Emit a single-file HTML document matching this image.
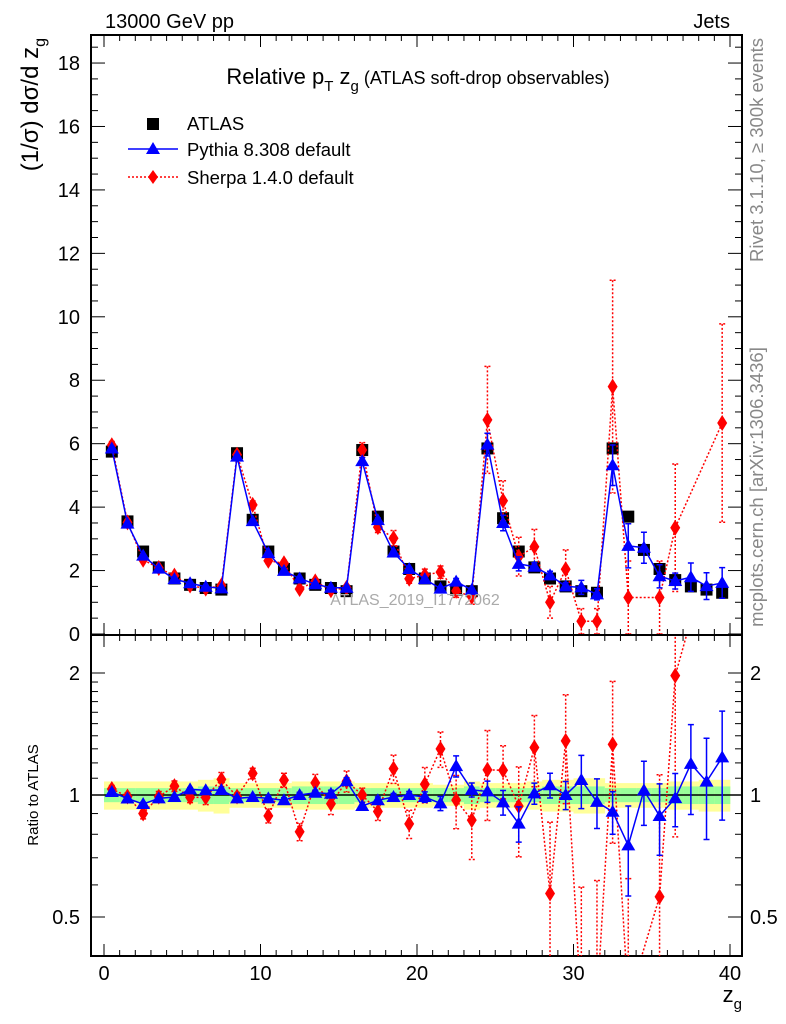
<!DOCTYPE html>
<html><head><meta charset="utf-8"><style>
html,body{margin:0;padding:0;background:#fff;overflow:hidden;width:786px;height:1024px}
svg{display:block;font-family:"Liberation Sans",sans-serif}
</style></head><body>
<svg id="c" width="786" height="1024" viewBox="0 0 786 1024" xmlns="http://www.w3.org/2000/svg">
<g id="bands"></g>
<g id="marks"></g>
<g id="axes"></g>
<text x="105" y="28" font-size="20">13000 GeV pp</text>
<text x="730" y="28" font-size="20" text-anchor="end">Jets</text>
<text x="418" y="84" font-size="22" text-anchor="middle">Relative p<tspan font-size="15" dy="7">T</tspan><tspan dy="-7"> z</tspan><tspan font-size="15" dy="7">g</tspan><tspan dy="-7" font-size="18"> (ATLAS soft-drop observables)</tspan></text>
<text x="415" y="605" font-size="16" fill="#aaa" text-anchor="middle">ATLAS_2019_I1772062</text>
<text transform="translate(763,150) rotate(-90)" font-size="18.5" fill="#888" text-anchor="middle">Rivet 3.1.10, ≥ 300k events</text>
<text transform="translate(763,487) rotate(-90)" font-size="18.5" fill="#888" text-anchor="middle">mcplots.cern.ch [arXiv:1306.3436]</text>
<text transform="translate(38,38) rotate(-90)" font-size="24" text-anchor="end">(1/σ) dσ/d z<tspan font-size="16" dy="7">g</tspan></text>
<text transform="translate(38,795) rotate(-90)" font-size="15" text-anchor="middle">Ratio to ATLAS</text>
<text x="742" y="1002" font-size="22" text-anchor="end">z<tspan font-size="15" dy="7">g</tspan></text>
<g>
<g><rect x="147" y="118" width="12" height="12" fill="#000"/><text x="187" y="130" font-size="18.5">ATLAS</text></g>
<g><line x1="128" y1="149" x2="178" y2="149" stroke="#00f" stroke-width="1.5"/><polygon points="153,142 160,154 146,154" fill="#00f"/><text x="187" y="156" font-size="18.5">Pythia 8.308 default</text></g>
<g><line x1="128" y1="177" x2="178" y2="177" stroke="#f00" stroke-width="1.5" stroke-dasharray="2,2"/><polygon points="153,170 158,177 153,184 148,177" fill="#f00"/><text x="187" y="184" font-size="18.5">Sherpa 1.4.0 default</text></g>
</g>
</svg>
<script>
const binCenters=[0.5,1.5,2.5,3.5,4.5,5.5,6.5,7.5,8.5,9.5,10.5,11.5,12.5,13.5,14.5,15.5,16.5,17.5,18.5,19.5,20.5,21.5,22.5,23.5,24.5,25.5,26.5,27.5,28.5,29.5,30.5,31.5,32.5,33.5,34.5,35.5,36.5,37.5,38.5,39.5];
const atlasVals=[5.75,3.55,2.6,2.1,1.75,1.55,1.45,1.4,5.7,3.6,2.6,2.05,1.75,1.55,1.45,1.35,5.8,3.7,2.6,2.05,1.75,1.5,1.4,1.35,5.85,3.65,2.6,2.1,1.75,1.5,1.35,1.3,5.85,3.7,2.65,2.05,1.7,1.5,1.4,1.3];
const pythiaVals=[5.85,3.48,2.47,2.06,1.73,1.6,1.49,1.44,5.59,3.56,2.55,1.99,1.75,1.57,1.46,1.46,5.45,3.59,2.57,2.05,1.73,1.43,1.65,1.39,5.97,3.5,2.21,2.12,1.85,1.5,1.47,1.25,5.32,2.78,2.72,1.82,1.67,1.79,1.51,1.61];
const pythiaRelErr=[0.01,0.01,0.01,0.01,0.01,0.01,0.01,0.01,0.01,0.01,0.015,0.015,0.015,0.015,0.02,0.02,0.02,0.02,0.02,0.02,0.03,0.04,0.06,0.04,0.06,0.07,0.1,0.06,0.07,0.08,0.15,0.14,0.12,0.25,0.18,0.2,0.15,0.25,0.28,0.3];
const sherpaVals=[5.95,3.52,2.34,2.08,1.84,1.53,1.43,1.53,5.65,4.07,2.31,2.23,1.42,1.66,1.38,1.46,5.8,3.37,3.02,1.74,1.86,1.95,1.36,1.17,6.75,4.2,2.44,2.75,1.0,2.04,0.4,0.4,7.8,1.15,null,1.15,3.35,null,null,6.65];
const sherpaRelErr=[0.02,0.02,0.03,0.03,0.03,0.03,0.04,0.04,0.02,0.03,0.04,0.04,0.05,0.05,0.06,0.06,0.04,0.05,0.08,0.08,0.1,0.1,0.15,0.2,0.25,0.15,0.25,0.2,0.5,0.3,1,1,0.43,1,0,1,0.6,0,0,0.47];
const yellowBand=[0.08,0.08,0.08,0.08,0.08,0.08,0.09,0.1,0.07,0.07,0.07,0.07,0.08,0.08,0.08,0.08,0.07,0.07,0.07,0.07,0.07,0.06,0.06,0.08,0.07,0.07,0.07,0.08,0.09,0.09,0.1,0.1,0.07,0.07,0.07,0.07,0.08,0.08,0.09,0.09];
const greenBand=[0.04,0.04,0.04,0.04,0.04,0.04,0.05,0.05,0.04,0.04,0.04,0.04,0.05,0.05,0.05,0.05,0.04,0.04,0.04,0.04,0.04,0.04,0.04,0.05,0.04,0.04,0.04,0.04,0.05,0.05,0.05,0.05,0.04,0.04,0.04,0.04,0.05,0.05,0.05,0.05];
const xTicks=[0,10,20,30,40];
const yTicks=[0,2,4,6,8,10,12,14,16,18];
const rTicks=[0.5,1,2];

const NS="http://www.w3.org/2000/svg";
const L=91,R=742,T=35,MB=635,RB=956;
const X=v=>104+v*15.65;
const Y=v=>634-v*31.72;
const RY=r=>795-Math.log2(r)*122;
function mk(tag,attrs,parent){const e=document.createElementNS(NS,tag);for(const k in attrs)e.setAttribute(k,attrs[k]);parent.appendChild(e);return e;}
const bands=document.getElementById('bands'),marks=document.getElementById('marks'),axes=document.getElementById('axes');
const defs=mk('defs',{},document.getElementById('c'));
const clipR=mk('clipPath',{id:'cr'},defs);mk('rect',{x:L,y:MB,width:R-L,height:RB-MB},clipR);
const clipM=mk('clipPath',{id:'cm'},defs);mk('rect',{x:L,y:T,width:R-L,height:MB-T},clipM);
marks.setAttribute('clip-path','url(#cm)');
const rmarks=mk('g',{'clip-path':'url(#cr)'},document.getElementById('c'));


binCenters.forEach((c,i)=>{
 const y=mk('rect',{x:X(c-0.5),y:RY(1+yellowBand[i]),width:15.65+0.3,height:RY(1-yellowBand[i])-RY(1+yellowBand[i]),fill:'#ffff99'},bands);
 
 
 const g=mk('rect',{x:X(c-0.5),y:RY(1+greenBand[i]),width:15.65+0.3,height:RY(1-greenBand[i])-RY(1+greenBand[i]),fill:'#99ff99'},bands);
 
 
});
const one=mk('line',{x1:L,x2:R,y1:RY(1),y2:RY(1),stroke:'#000','stroke-width':1.5},rmarks);


function series(vals,relErr,ref,color,dash,shape,name){
 [[marks,(v,i)=>Y(v),(v,i)=>v],[rmarks,(v,i)=>RY(v/ref[i]),(v,i)=>v/ref[i]]].forEach(([par,fy,fv],pi)=>{
  let pts=[];
  vals.forEach((v,i)=>{if(v===null)return;pts.push(X(binCenters[i])+','+fy(v,i));});
  const pl=mk('polyline',{points:pts.join(' '),fill:'none',stroke:color,'stroke-width':1.5,'stroke-dasharray':dash},par);
  
  
  vals.forEach((v,i)=>{if(v===null)return;
   const cx=X(binCenters[i]);const val=fv(v,i);const cy=pi?RY(val):Y(val);
   const e=relErr[i]*val;const y1=pi?RY(val+e):Y(val+e);const y2=pi?RY(Math.max(val-e,0.35)):Y(Math.max(val-e,0));
   if(e>0){const eb=mk('path',{d:`M${cx},${y1}V${y2}M${cx-3},${y1}H${cx+3}M${cx-3},${y2}H${cx+3}`,stroke:color,'stroke-width':1.5,'stroke-dasharray':dash,fill:'none'},par);
   
   }
   const m=shape==='tri'?mk('polygon',{points:`${cx},${cy-7} ${cx+7},${cy+5} ${cx-7},${cy+5}`,fill:color},par):mk('polygon',{points:`${cx},${cy-8} ${cx+5},${cy} ${cx},${cy+8} ${cx-5},${cy}`,fill:color},par);
   
   
  });
 });
}
binCenters.forEach((c,i)=>{
 const r=mk('rect',{x:X(c)-6,y:Y(atlasVals[i])-6,width:12,height:12,fill:'#000'},marks);
 
 
});
series(sherpaVals,sherpaRelErr,atlasVals,'#f00','2,2','dia','sherpa');
series(pythiaVals,pythiaRelErr,atlasVals,'#00f','none','tri','pythia');
[[T,MB],[MB,RB]].forEach(([a,b])=>{const f=mk('rect',{x:L,y:a,width:R-L,height:b-a,fill:'none',stroke:'#000','stroke-width':2},axes);

});
for(let v=0;v<=40;v++){const maj=v%10===0;const len=maj?12:6;
 mk('line',{x1:X(v),x2:X(v),y1:RB,y2:RB-len,stroke:'#000'},axes);
 mk('line',{x1:X(v),x2:X(v),y1:MB,y2:MB-len,stroke:'#000'},axes);
 mk('line',{x1:X(v),x2:X(v),y1:MB,y2:MB+len,stroke:'#000'},axes);
 mk('line',{x1:X(v),x2:X(v),y1:T,y2:T+len,stroke:'#000'},axes);}
xTicks.forEach(v=>{const t=mk('text',{x:X(v),y:980,'font-size':20,'text-anchor':'middle'},axes);t.textContent=v;

});
for(let v=0;v<=18.5;v+=0.5){const maj=v%2===0;const len=maj?14:7;
 mk('line',{x1:L,x2:L+len,y1:Y(v),y2:Y(v),stroke:'#000'},axes);
 mk('line',{x1:R,x2:R-len,y1:Y(v),y2:Y(v),stroke:'#000'},axes);}
yTicks.forEach(v=>{const t=mk('text',{x:80,y:Y(v)+7,'font-size':20,'text-anchor':'end'},axes);t.textContent=v;

});
const minors=[0.5,0.6,0.7,0.8,0.9,1,1.1,1.2,1.3,1.4,1.5,1.6,1.7,1.8,1.9,2];
minors.forEach(r=>{const maj=rTicks.includes(r);const len=maj?14:7;
 mk('line',{x1:L,x2:L+len,y1:RY(r),y2:RY(r),stroke:'#000'},axes);
 mk('line',{x1:R,x2:R-len,y1:RY(r),y2:RY(r),stroke:'#000'},axes);});
rTicks.forEach(r=>{const t=mk('text',{x:80,y:RY(r)+7,'font-size':20,'text-anchor':'end'},axes);t.textContent=r;


const t2=mk('text',{x:750,y:RY(r)+7,'font-size':20},axes);t2.textContent=r;

});
</script>
</body></html>
